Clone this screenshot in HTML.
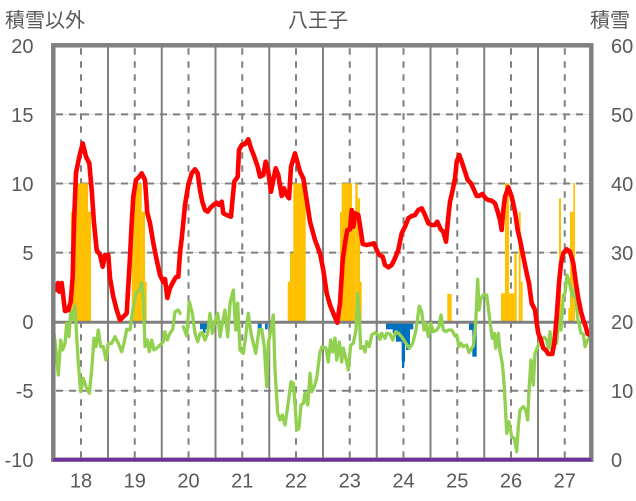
<!DOCTYPE html>
<html>
<head>
<meta charset="utf-8">
<style>
html,body{margin:0;padding:0;background:#fff;}
svg{display:block;}
text{font-family:"Liberation Sans","Noto Sans CJK JP",sans-serif;fill:#595959;}
</style>
</head>
<body>
<svg width="636" height="501" viewBox="0 0 636 501" xmlns="http://www.w3.org/2000/svg">
<rect x="0" y="0" width="636" height="501" fill="#fff"/>

<!-- titles -->
<text x="5" y="27" font-size="20">積雪以外</text>
<text x="288" y="27" font-size="20">八王子</text>
<text x="590" y="27" font-size="20">積雪</text>

<!-- horizontal gridlines -->
<g stroke="#d9d9d9" stroke-width="1">
<line x1="55" y1="114.4" x2="590" y2="114.4"/>
<line x1="55" y1="183.5" x2="590" y2="183.5"/>
<line x1="55" y1="252.6" x2="590" y2="252.6"/>
<line x1="55" y1="390.8" x2="590" y2="390.8"/>
</g>
<g stroke="#808080" stroke-width="2" stroke-dasharray="7 6">
<line x1="56" y1="114.4" x2="590" y2="114.4"/>
<line x1="56" y1="183.5" x2="590" y2="183.5"/>
<line x1="56" y1="252.6" x2="590" y2="252.6"/>
<line x1="56" y1="390.8" x2="590" y2="390.8"/>
</g>

<!-- vertical solid lines -->
<g stroke="#808080" stroke-width="2">
<line x1="108" y1="46" x2="108" y2="459"/>
<line x1="161.75" y1="46" x2="161.75" y2="459"/>
<line x1="215.5" y1="46" x2="215.5" y2="459"/>
<line x1="269.25" y1="46" x2="269.25" y2="459"/>
<line x1="323" y1="46" x2="323" y2="459"/>
<line x1="376.75" y1="46" x2="376.75" y2="459"/>
<line x1="430.5" y1="46" x2="430.5" y2="459"/>
<line x1="484.25" y1="46" x2="484.25" y2="459"/>
<line x1="538" y1="46" x2="538" y2="459"/>
</g>
<!-- vertical dashed lines -->
<g stroke="#808080" stroke-width="2" stroke-dasharray="6.5 6.5">
<line x1="81" y1="48.3" x2="81" y2="459"/>
<line x1="134.75" y1="48.3" x2="134.75" y2="459"/>
<line x1="188.5" y1="48.3" x2="188.5" y2="459"/>
<line x1="242.25" y1="48.3" x2="242.25" y2="459"/>
<line x1="296" y1="48.3" x2="296" y2="459"/>
<line x1="349.75" y1="48.3" x2="349.75" y2="459"/>
<line x1="403.5" y1="48.3" x2="403.5" y2="459"/>
<line x1="457.25" y1="48.3" x2="457.25" y2="459"/>
<line x1="511" y1="48.3" x2="511" y2="459"/>
<line x1="564.75" y1="48.3" x2="564.75" y2="459"/>
</g>

<!-- orange bars -->
<g fill="#FFC000">
<rect x="71" y="211.7" width="3" height="109.3"/>
<rect x="74" y="183.3" width="14" height="137.7"/>
<rect x="88" y="211.7" width="3" height="109.3"/>
<rect x="131.7" y="238" width="1.6" height="83"/>
<rect x="133.3" y="183.3" width="8.4" height="137.7"/>
<rect x="141.7" y="211.7" width="3.3" height="109.3"/>
<rect x="145" y="281.7" width="1.7" height="39.3"/>
<rect x="287.7" y="281.7" width="2.3" height="39.3"/>
<rect x="290" y="253.3" width="3.3" height="67.7"/>
<rect x="293.3" y="183.3" width="12.4" height="137.7"/>
<rect x="340" y="211.7" width="1.7" height="109.3"/>
<rect x="341.7" y="183.3" width="10.3" height="137.7"/>
<rect x="352" y="225" width="3.3" height="96"/>
<rect x="355.3" y="183.3" width="2.4" height="137.7"/>
<rect x="357.7" y="198.3" width="2.3" height="122.7"/>
<rect x="360" y="281.7" width="1.7" height="39.3"/>
<rect x="447.3" y="294" width="4.4" height="27"/>
<rect x="501" y="293.3" width="4" height="27.7"/>
<rect x="505" y="183.3" width="4" height="137.7"/>
<rect x="509" y="293.3" width="5.3" height="27.7"/>
<rect x="514.3" y="253.3" width="2.4" height="67.7"/>
<rect x="518.7" y="211.7" width="2" height="109.3"/>
<rect x="520.7" y="281.7" width="2" height="39.3"/>
<rect x="559" y="198.3" width="2" height="122.7"/>
<rect x="568.3" y="308" width="1.7" height="13"/>
<rect x="570" y="211.7" width="3.3" height="109.3"/>
<rect x="573.3" y="183.3" width="1.7" height="137.7"/>
</g>

<!-- blue bars -->
<g fill="#0070C0">
<rect x="200" y="323" width="7.7" height="6.3"/>
<rect x="203" y="323" width="2.5" height="10"/>
<rect x="257.7" y="323" width="4" height="6.3"/>
<rect x="265" y="323" width="2.7" height="6.3"/>
<rect x="386" y="323" width="27.3" height="6.3"/>
<rect x="392.7" y="323" width="15.6" height="10.3"/>
<rect x="396" y="323" width="11.3" height="18.7"/>
<rect x="401.7" y="323" width="3.3" height="38.7"/>
<rect x="402" y="323" width="2" height="45"/>
<rect x="406" y="323" width="4" height="27"/>
<rect x="469" y="323" width="7.7" height="7"/>
<rect x="472.3" y="323" width="4.4" height="33.7"/>
</g>

<!-- zero line -->
<line x1="54" y1="322.3" x2="591" y2="322.3" stroke="#808080" stroke-width="3"/>

<!-- green series -->
<g fill="none" stroke="#92D050" stroke-width="3.3" stroke-linejoin="round" stroke-linecap="round">
<polyline points="54,333.3 56,350 58.3,375 60.7,340 62.7,350 65,343.3 66.7,323.3 69,336.7 70.7,310 72.7,320 75,306 76.7,336.7 78.3,363.3 80.7,391.7 83.3,378.3 86,386.7 89.3,393.3 91.7,370 94,338.3 96,346.7 98.3,330 100.7,346.7 103.3,346.7 106,360 108.3,343.3 111.7,343.3 115,336.7 118.3,343.3 121.7,351.7 124,343.3 126.7,329.3 130,330 132.7,310 136,293.3 139.3,290 141.7,282.7 143.3,296.7 145,346.7 147.3,340 149.3,351.7 151.7,340 154,350 156.7,348.3 160,345 163.3,341.7 165,331.7 167.3,340 170,333.3 172.7,329.3 175,311.7 178.3,310 180,313.3"/>
<polyline points="183.3,326.7 186.7,336 189.3,301.7 192.3,313.3 195,333.3 197.7,341.7 200,333.3 202.3,332.7 205,340 207.7,333.3 210,313.3 212.3,333.3 214.3,323.3 217.7,313.3 220,336.7 222.3,323.3 225,310 227.7,336.7 230,303.3 233.3,290 235.7,330 237.7,303.3 240,350 243.3,353.3 245.7,336.7 248.3,313.3 251,333.3 253.3,343.3 255.7,353.3 259,330 261.7,329.3 264.3,346.7 266.7,386.7 268.3,343.3 271,330 273.3,315 275,370 277.7,413.3 280,420 282.3,415 285,425 287.7,406.7 291,381.7 293.3,383.3 295,403.3 296.7,430 299,428.3 301,405 303.3,403.3 305,393.3 307.7,405 310,373.3 311.7,391.7 314.3,386.7 316.7,378.3 320,352 322,346.7 326,348 328.3,362 330.7,340 332.7,352 335,338 336.7,360 339.3,342 341.7,362 343.3,348 346.7,362 348.3,370 350.7,345 353.3,343.3 356,330 357.7,293.3 359.3,316.7 360.7,348.3 363.3,346.7 365,352 366.7,341.7 369.3,346.7 371.7,335 375,332.7 378.3,335 380,339.3 381.7,333.3 385,338.3 386.7,333.3 390,334 392.7,340 396,331.7 399.3,334 402.7,338.3 406,343.3 409.3,348.3 412.7,343.3 416,330 419.3,306 421.7,311.7 424,330 426,323.3 428.3,336.7 430.7,323.3 433.3,331.7 436.7,330 439,326.7 441,315 443.3,330 446,331.7 448.3,330 451.7,330 453.3,332.7 455,336 456.7,335 459,346.7 461,343.3 463.3,346.7 466.7,345 469,352.7 471.7,348.3 473.3,346 475.7,323.3 477.7,279.3 479,310 481,298.3 483.3,295 486.7,295 490,321.7 492.3,338.3 494.3,333.3 495.7,348.3 498.3,333.3 500,351.7 502.3,363.3 504.3,386.7 506.7,433.3 509,421.7 511.7,436.7 514.3,438.3 516.7,451.7 518.3,426.7 520,410 523.3,406.7 525.7,410 527.7,420 529,390 531,360 533.3,385 535,353.3 537.7,346.7 541,339.3 544.3,337.3 546.7,340 548.3,348.3 550,331.7 551.7,350 554.3,338.3 556.7,343.3 559,316.7 561,330 563.3,295 565,293.3 567,275 570,285 572.3,296.7 575,288.3 577.7,318.3 581,333.3 583.3,334 585,346.7 587.7,340 590,336.7"/>
</g>

<!-- red series -->
<polyline fill="none" stroke="#FF0000" stroke-width="4.6" stroke-linejoin="round" stroke-linecap="round" points="54,288 56,290 58,283 59.3,291.7 61.7,283 65,311 68.3,310 70.7,301.7 72.7,276.7 74,223 76,173 79.3,156.7 82.7,143.3 86,156.7 89.3,163.3 91.7,190 94,223 96.7,250 100,255 102.7,266.7 105,255 108.3,255 110,278 113.3,296.7 116.7,310 120,320 123.3,316.7 126.7,313.3 128.3,286 130,256.7 131.7,223 133.3,196.7 136,180 139.3,176.7 141.7,173.3 145,180 147.3,213 150,223 153.3,243 156.7,260 160,275 163.3,282 165,279 167.3,298 170,288 173.3,281.7 176,277 178.3,276.7 180,253 182,236 185,205 188.3,185 191.7,173.3 195,169.3 197.7,173.3 200,190 202.3,201.7 205,210 207.7,211.7 210,208.3 213.3,205 216.7,202.7 219,205 221.7,201.7 223.3,213.3 226.7,215 231,216.7 232.3,201.7 234.3,181.7 237.7,176.7 239,150 241.7,145 245,144 248.3,139.3 251,148.3 254.3,156.7 257.7,166.7 260,176.7 263.3,175 265.7,161.7 268.3,171.7 271,191.7 273.3,180 275.7,168.3 278.3,175 281.7,196 284,188.3 286.7,195 289,198.3 291,166.7 295,153.3 297.7,163.3 300,171.7 303.3,178.3 306.7,200 310,221.7 315,240 320,253.3 323.3,270 326.7,293.3 330,305 334,315 337.3,322.7 340,303.3 342.7,260 345,243.3 347.3,230 350,229.3 351.7,210 353.3,226.7 355,213.3 358.3,215 360.7,230 362.7,244 366.7,245 371.7,244 374,243.3 376.7,250 379.3,255 382.7,256.7 385,265 388.3,267.3 391.7,265 395,258.3 398.3,250 401.7,233.3 405,226.7 408.3,218.3 411.7,216 415,215 418.3,210 421.7,208.3 425,215 428.3,223.3 431.7,225 435,225 437.3,221.7 440.7,229.3 443.3,231.7 446,241.7 448.3,216.7 450,201.7 452.7,190 455,178.3 456.7,161.7 459.3,155 461.7,161.7 465,171.7 467.7,180 471,183.3 473.3,188.3 476.7,196 479,196 482.3,194 485.7,198.3 488.3,200 491.7,200.7 495,203.3 497.7,211.7 500,220 501.7,230 503.3,210 505,196.7 508.3,187.3 511.7,196.7 515,211.7 517.7,230 520,240 523.3,256.7 526.7,273.3 529,283.3 531.7,303.3 535,310 536.7,323.3 538.3,333.3 541,340 543.3,348.3 545.7,350 548.3,354 552.3,354 554.3,343.3 556.7,316.7 559,283.3 561,263.3 563.3,253.3 566.7,249.3 570,251.7 573.3,263.3 575.7,281.7 578.3,298.3 581,311.7 583.3,320 585.7,326.7 587.7,334 590,335"/>

<!-- frame -->
<rect x="53.3" y="45.3" width="538" height="414.4" fill="none" stroke="#808080" stroke-width="4.5"/>
<!-- purple line -->
<line x1="53" y1="459.7" x2="591.5" y2="459.7" stroke="#7030A0" stroke-width="3.3"/>

<!-- left tick labels -->
<g font-size="20" text-anchor="end">
<text x="33.5" y="52.8">20</text>
<text x="33.5" y="121.8">15</text>
<text x="33.5" y="190.8">10</text>
<text x="33.5" y="259.8">5</text>
<text x="33.5" y="328.8">0</text>
<text x="33.5" y="397.8">-5</text>
<text x="33.5" y="466.8">-10</text>
</g>
<!-- right tick labels -->
<g font-size="20" text-anchor="start">
<text x="611" y="52.8">60</text>
<text x="611" y="121.8">50</text>
<text x="611" y="190.8">40</text>
<text x="611" y="259.8">30</text>
<text x="611" y="328.8">20</text>
<text x="611" y="397.8">10</text>
<text x="611" y="466.8">0</text>
</g>
<!-- x labels -->
<g font-size="20" text-anchor="middle">
<text x="81" y="487.3">18</text>
<text x="134.75" y="487.3">19</text>
<text x="188.5" y="487.3">20</text>
<text x="242.25" y="487.3">21</text>
<text x="296" y="487.3">22</text>
<text x="349.75" y="487.3">23</text>
<text x="403.5" y="487.3">24</text>
<text x="457.25" y="487.3">25</text>
<text x="511" y="487.3">26</text>
<text x="564.75" y="487.3">27</text>
</g>
</svg>
</body>
</html>
